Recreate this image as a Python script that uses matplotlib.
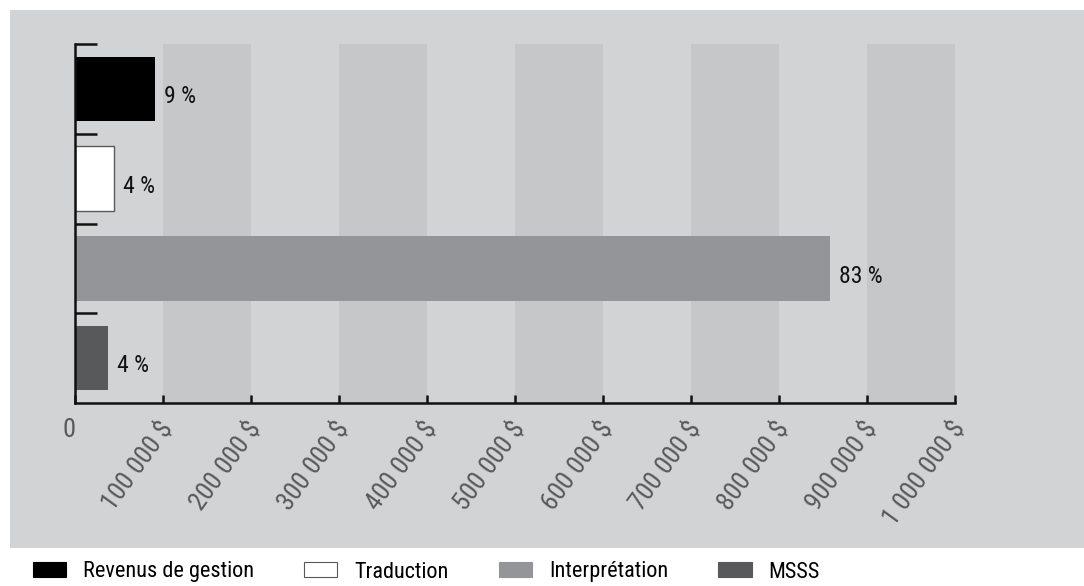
import matplotlib
matplotlib.use("Agg")
import matplotlib.pyplot as plt
import matplotlib.transforms as mtransforms
from matplotlib import font_manager
from matplotlib.patches import Rectangle, Patch

# revenue sources, top to bottom
categories = ["Revenus de gestion", "Traduction", "Interprétation", "MSSS"]
amounts = [91000, 44000, 858000, 37500]
shares = ["9 %", "4 %", "83 %", "4 %"]
bar_colors = ["#000000", "#ffffff", "#939598", "#58595b"]
xticks = [0, 100000, 200000, 300000, 400000, 500000, 600000, 700000, 800000, 900000, 1000000]
xtick_labels = ["0", "100 000 $", "200 000 $", "300 000 $", "400 000 $", "500 000 $",
                "600 000 $", "700 000 $", "800 000 $", "900 000 $", "1 000 000 $"]

installed = {f.name for f in font_manager.fontManager.ttflist}
fams = [f for f in ["Liberation Sans Narrow", "Roboto Condensed", "Liberation Sans"] if f in installed]
plt.rcParams["font.family"] = fams + ["DejaVu Sans"]

W, H = 1084, 586
fig = plt.figure(figsize=(W / 100, H / 100), dpi=100)
fig.patch.set_facecolor("white")

# gray panel behind the chart
fig.patches.append(Rectangle((10 / W, (H - 548) / H), (W - 10) / W, 538 / H,
                             transform=fig.transFigure, facecolor="#d2d3d5",
                             edgecolor="none", zorder=-10))

ax = fig.add_axes([75 / W, (H - 403) / H, 880 / W, 359 / H])
ax.set_facecolor("none")

# alternating vertical bands
for start in xticks[1:-1:2]:
    ax.axvspan(start, start + 100000, color="#c6c7c9", lw=0, zorder=0)

ypos = list(range(len(categories)))
for y, v, c, s in zip(ypos, amounts, bar_colors, shares):
    ax.barh(y, v, height=0.72, color=c,
            edgecolor="#58595b" if c == "#ffffff" else c,
            linewidth=1.0 if c == "#ffffff" else 0, zorder=2)
    ax.annotate(s, xy=(v, y), xytext=(6.5, -5.5), textcoords="offset points",
                ha="left", va="center", fontsize=17, color="#111111")

ax.set_xlim(0, 1000000)
ax.set_ylim(3.5, -0.5)
ax.set_yticks([-0.5, 0.5, 1.5, 2.5])
ax.set_yticklabels([])
ax.tick_params(axis="y", direction="in", length=16, width=1.8, color="#111111")

ax.set_xticks(xticks)
ax.set_xticklabels([])
ax.tick_params(axis="x", direction="in", length=6, width=1.8, color="#111111")

# tick labels drawn by hand so they can be nudged off the tick position
xform = mtransforms.blended_transform_factory(ax.transData, ax.transAxes)
for i, (t, lab) in enumerate(zip(xticks, xtick_labels)):
    if i == 0:
        off = mtransforms.ScaledTranslation(0, -15 / 100, fig.dpi_scale_trans)
        ax.text(t, 0, lab, transform=xform + off, ha="right", va="top",
                fontsize=19, color="#58595b")
    else:
        off = mtransforms.ScaledTranslation(5 / 100, -21 / 100, fig.dpi_scale_trans)
        ax.text(t, 0, lab, transform=xform + off, ha="right", va="center",
                rotation=54, rotation_mode="anchor", fontsize=19, color="#58595b")

for side in ["top", "right"]:
    ax.spines[side].set_visible(False)
for side in ["left", "bottom"]:
    ax.spines[side].set_linewidth(1.8)
    ax.spines[side].set_color("#111111")
    ax.spines[side].set_capstyle("projecting")

handles = [Patch(facecolor=c, edgecolor="#58595b" if c == "#ffffff" else c, linewidth=0.8)
           for c in bar_colors]
fig.legend(handles, categories, loc="center left", bbox_to_anchor=(33 / W, 14 / H),
           ncol=4, frameon=False, fontsize=16, handlelength=1.49, handleheight=0.63,
           handletextpad=0.77, columnspacing=2.25, borderpad=0, borderaxespad=0)

fig.savefig("out.png", dpi=100)
